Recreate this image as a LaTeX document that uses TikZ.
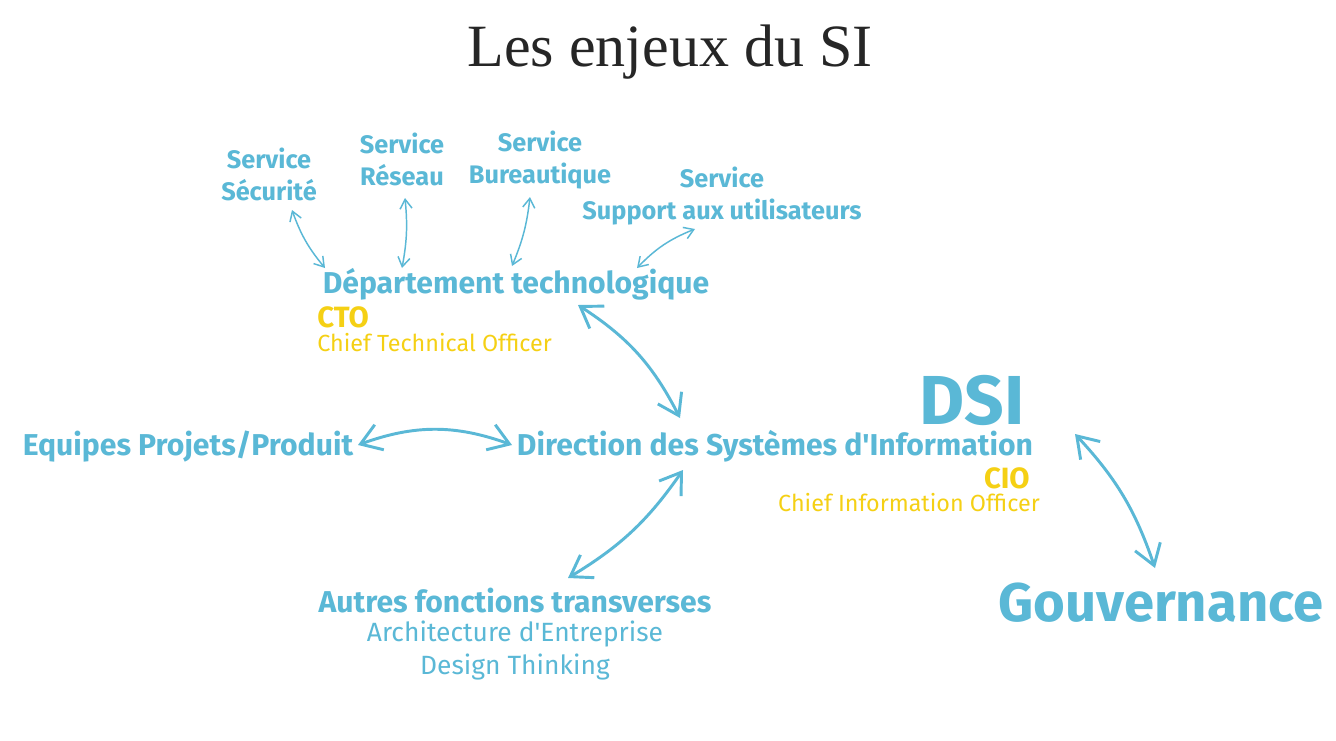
\documentclass[tikz,border=0pt]{standalone}
\usepackage{fontspec}
\setmainfont{Liberation Serif}
\newfontfamily\uifont{Fira Sans}
\usetikzlibrary{arrows.meta,calc,positioning}
\definecolor{siblue}{RGB}{90,184,214}
\definecolor{siyellow}{RGB}{245,208,20}

\begin{document}
\begin{tikzpicture}[x=0.75pt,y=-0.75pt,
  big/.style={text=siblue,font=\uifont\bfseries\fontsize{22.6}{26}\selectfont,inner sep=0pt},
  serv/.style={text=siblue,align=center,font=\uifont\bfseries\fontsize{19}{24}\selectfont,inner sep=0pt},
  sub/.style={text=siblue,align=center,font=\uifont\fontsize{19.8}{24.75}\selectfont,inner sep=0pt},
  role/.style={text=siyellow,font=\uifont\bfseries\fontsize{22}{24}\selectfont,inner sep=0pt},
  rolename/.style={text=siyellow,font=\uifont\fontsize{17.5}{20}\selectfont,inner sep=0pt},
  link/.style={draw=siblue,line width=2.2pt,
    {Straight Barb[length=15pt,width=20pt]}-{Straight Barb[length=15pt,width=20pt]}},
  slink/.style={draw=siblue,line width=1.1pt,
    {Straight Barb[length=7pt,width=9pt]}-{Straight Barb[length=7pt,width=9pt]}}]
\fill[white] (0,0) rectangle (1336,740);
\node[text=black!85,font=\fontsize{45}{50}\selectfont] (titre) at (670,52) {Les enjeux du SI};

% services du departement
\node[serv] (secu) at (269,174) {Service\\Sécurité};
\node[serv] (reseau) at (402,159) {Service\\Réseau};
\node[serv] (bureau) at (540,160) {Service\\Bureautique};
\node[serv] (support) at (722,196) {Service\\Support aux utilisateurs};

\node[big] (dept) at (516,284) {Département technologique};
\node[role,anchor=west] (cto) at (317,317) {CTO};
\node[rolename,anchor=west] (ctoname) at (317,343) {Chief Technical Officer};

% DSI
\node[text=siblue,font=\uifont\bfseries\fontsize{52}{56}\selectfont,inner sep=0pt] (dsi) at (972,400) {DSI};
\node[big] (dir) at (775,446) {Direction des Systèmes d'Information};
\node[role,anchor=east] (cio) at (1030,478) {CIO};
\node[rolename,anchor=east] (cioname) at (1040,503) {Chief Information Officer};

\node[big] (equipes) at (188,447) {Equipes Projets/Produit};
\node[big] (autres) at (515,601) {Autres fonctions transverses};
\node[sub] (autresdet) at (515,651) {Architecture d'Entreprise\\Design Thinking};
\node[text=siblue,font=\uifont\bfseries\fontsize{40.8}{44}\selectfont,inner sep=0pt] (gouv) at (1161,603) {Gouvernance};

% fleches
\draw[slink] ($(secu)+(23,36)$) to[bend right=10] ($(dept)+(-191,-16)$);
\draw[slink] ($(reseau)+(3,39)$) to[bend left=8] ($(dept)+(-114,-16)$);
\draw[slink] ($(bureau)+(-10,37)$) to[bend left=8] ($(dept)+(-4,-18)$);
\draw[slink] ($(support)+(-27,33)$) to[bend right=12] ($(dept)+(121,-16)$);
\draw[link] ($(dept)+(62,21)$) to[bend left=15] ($(dir)+(-95,-28)$);
\draw[link] ($(equipes)+(170,-2)$) to[bend left=20] ($(dir)+(-263,-1)$);
\draw[link] ($(dir)+(-92,24)$) to[bend left=12] ($(autres)+(53,-23)$);
\draw[link] ($(dsi)+(103,34)$) to[bend left=12] ($(gouv)+(-6,-35)$);
\end{tikzpicture}
\end{document}
